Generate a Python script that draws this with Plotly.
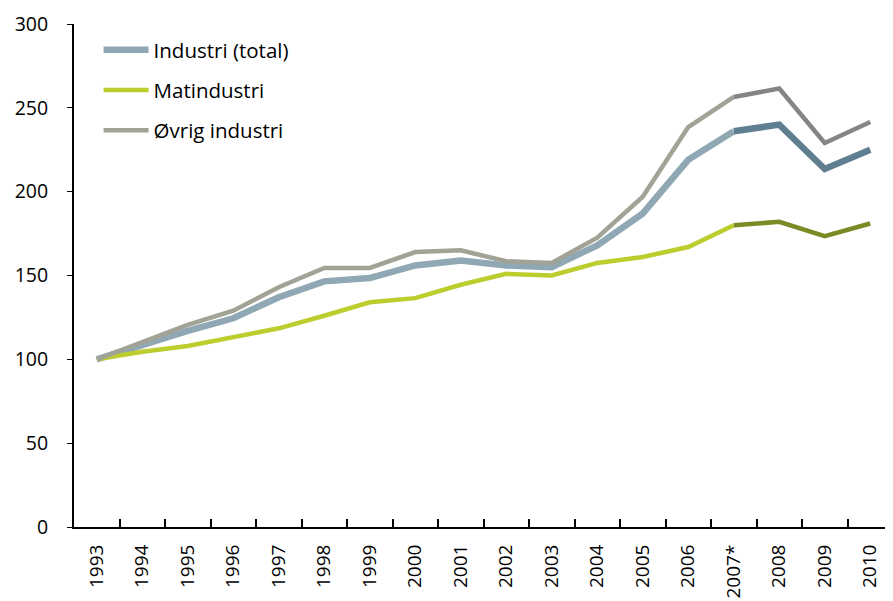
import plotly.graph_objects as go

years = ["1993", "1994", "1995", "1996", "1997", "1998", "1999", "2000", "2001",
         "2002", "2003", "2004", "2005", "2006", "2007*", "2008", "2009", "2010"]
industri_total = [100, 109, 117, 124.5, 137, 146.5, 148.5, 156, 159,
                  156, 155, 168, 187, 219, 236, 240, 213.5, 225]
matindustri = [100, 104.5, 108, 113.5, 118.5, 126, 134, 136.5, 144.5,
               151, 150, 157.5, 161, 167, 180, 182, 173.5, 181]
ovrig_industri = [100, 110.5, 120.5, 129, 143, 154.5, 154.5, 164, 165,
                  158.5, 157.5, 172.5, 197, 238.5, 256.5, 261.5, 229, 241.5]

split = years.index("2007*")

series = [
    ("Industri (total)", industri_total, "#8fa8b4", "#5f7f91", 6.5),
    ("Matindustri", matindustri, "#bccd2e", "#7b8a25", 4.5),
    ("Øvrig industri", ovrig_industri, "#a1a396", "#858585", 4.5),
]

fig = go.Figure()
for i, (name, vals, c1, c2, w) in enumerate(series):
    fig.add_trace(go.Scatter(
        x=years[:split + 1], y=vals[:split + 1], mode="lines", name=name,
        line=dict(color=c1, width=w), legendgroup=f"g{i}", showlegend=True))
for i, (name, vals, c1, c2, w) in enumerate(series):
    fig.add_trace(go.Scatter(
        x=years[split:], y=vals[split:], mode="lines", name=name,
        line=dict(color=c2, width=w), legendgroup=f"g{i}", showlegend=False))

font_family = "Open Sans, sans-serif"
fig.update_layout(
    width=893, height=601,
    margin=dict(l=66, r=8, t=16, b=82, autoexpand=False),
    paper_bgcolor="white", plot_bgcolor="white",
    font=dict(family=font_family, size=18, color="#000000"),
    showlegend=True,
    legend=dict(x=0.03, y=0.988, xanchor="left", yanchor="top",
                bgcolor="rgba(0,0,0,0)", font=dict(size=20.5),
                tracegroupgap=10.5, itemwidth=45),
    xaxis=dict(type="category", categoryorder="array", categoryarray=years,
               showline=True, linecolor="black", linewidth=2,
               ticks="inside", ticklen=8, tickcolor="black", tickwidth=1.5,
               tickson="boundaries", tickangle=-90, showgrid=False,
               tickfont=dict(size=19), ticklabelstandoff=8, automargin=False,
               range=[-0.5, len(years) - 0.5]),
    yaxis=dict(range=[0, 300], dtick=50, showline=True, linecolor="black",
               linewidth=2, ticks="outside", ticklen=5, tickcolor="black",
               showgrid=False, zeroline=False, tickfont=dict(size=19.5),
               ticklabelstandoff=15, automargin=False),
)

fig.write_html("out.html")
